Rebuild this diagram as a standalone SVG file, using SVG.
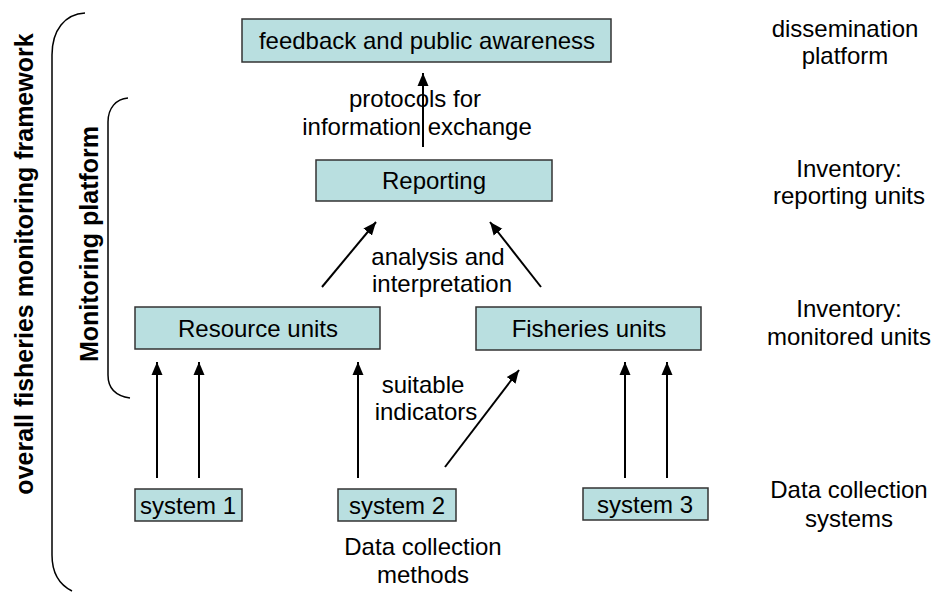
<svg xmlns="http://www.w3.org/2000/svg" width="938" height="592" viewBox="0 0 938 592">
<style>
.box{fill:#b9dfe0;stroke:#333;stroke-width:1.5}
.t{font-family:"Liberation Sans",Arial,sans-serif;font-size:24px;fill:#000;text-anchor:middle}
.b{font-weight:bold;font-size:25px}
.c{stroke:#000;stroke-width:2;fill:none}
.br{stroke:#000;stroke-width:1.5;fill:none}
</style>
<defs>
<marker id="ah" markerUnits="userSpaceOnUse" markerWidth="14" markerHeight="14" viewBox="0 0 14 14" refX="13" refY="7" orient="auto">
<path d="M0,1.5 L13,7 L0,12.5 Z" fill="#000"/>
</marker>
</defs>
<rect width="938" height="592" fill="#fff"/>
<g id="feedback"><rect class="box" x="242" y="19" width="369" height="43"/><text class="t" x="427" y="49">feedback and public awareness</text></g>
<g id="reporting"><rect class="box" x="316" y="160" width="236" height="41"/><text class="t" x="434" y="189">Reporting</text></g>
<g id="resource"><rect class="box" x="135" y="307" width="245" height="42"/><text class="t" x="258" y="337">Resource units</text></g>
<g id="fisheries"><rect class="box" x="476" y="307" width="225" height="43"/><text class="t" x="589" y="337">Fisheries units</text></g>
<g id="system1"><rect class="box" x="135" y="489" width="107" height="32"/><text class="t" x="188" y="514">system 1</text></g>
<g id="system2"><rect class="box" x="338" y="489" width="118" height="32"/><text class="t" x="397" y="514">system 2</text></g>
<g id="system3"><rect class="box" x="583" y="488" width="125" height="32"/><text class="t" x="645" y="513">system 3</text></g>
<g id="connectors">
<line class="c" x1="423" y1="147" x2="423" y2="73" marker-end="url(#ah)"/>
<line class="c" x1="322" y1="287" x2="376" y2="222" marker-end="url(#ah)"/>
<line class="c" x1="541" y1="287" x2="490" y2="222" marker-end="url(#ah)"/>
<line class="c" x1="157" y1="478" x2="157" y2="362" marker-end="url(#ah)"/>
<line class="c" x1="199" y1="478" x2="199" y2="362" marker-end="url(#ah)"/>
<line class="c" x1="358" y1="478" x2="358" y2="362" marker-end="url(#ah)"/>
<line class="c" x1="445" y1="467" x2="519" y2="370" marker-end="url(#ah)"/>
<line class="c" x1="625" y1="478" x2="625" y2="362" marker-end="url(#ah)"/>
<line class="c" x1="667" y1="478" x2="667" y2="362" marker-end="url(#ah)"/>
</g>
<g id="labels">
<text class="t" x="415" y="107">protocols for</text>
<text class="t" x="417" y="135">information exchange</text>
<text class="t" x="438" y="265">analysis and</text>
<text class="t" x="442" y="292">interpretation</text>
<text class="t" x="423" y="393">suitable</text>
<text class="t" x="426" y="420">indicators</text>
<text class="t" x="423" y="555">Data collection</text>
<text class="t" x="423" y="583">methods</text>
<text class="t" x="845" y="37">dissemination</text>
<text class="t" x="845" y="64">platform</text>
<text class="t" x="849" y="177">Inventory:</text>
<text class="t" x="849" y="204">reporting units</text>
<text class="t" x="849" y="317">Inventory:</text>
<text class="t" x="849" y="345">monitored units</text>
<text class="t" x="849" y="498">Data collection</text>
<text class="t" x="849" y="527">systems</text>
</g>
<g id="brackets">
<path class="br" d="M85,13 C65,14 52,30 52,55 L52,555 C52,575 60,585 72,591"/>
<path class="br" d="M128,98 C116,99 108,108 108,122 L108,375 C108,388 116,396 130,398"/>
<text class="t b" transform="translate(33,264) rotate(-90)">overall fisheries monitoring framework</text>
<text class="t b" transform="translate(98,244) rotate(-90)">Monitoring platform</text>
</g>
</svg>
